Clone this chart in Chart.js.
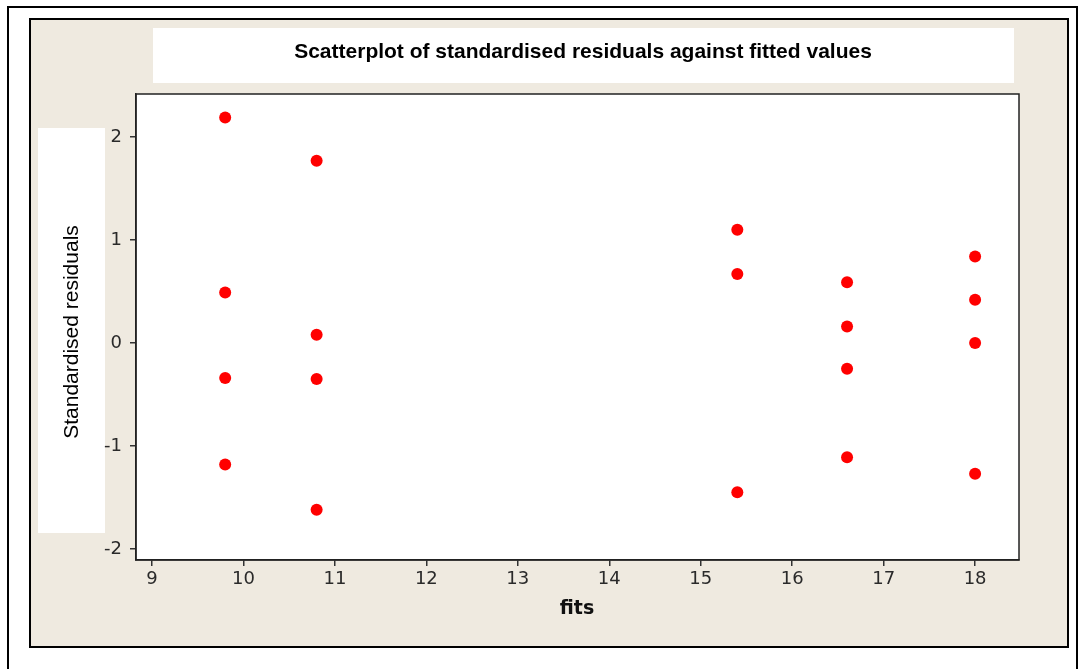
<!DOCTYPE html>
<html>
<head>
<meta charset="utf-8">
<script src="https://cdn.jsdelivr.net/npm/chart.js@4.4.1/dist/chart.umd.min.js"></script>
<style>
  html, body { margin: 0; padding: 0; background: #fff; }
  #wrap { position: relative; width: 1078px; height: 669px; }
</style>
</head>
<body>
<div id="wrap"><canvas id="myChart" width="1078" height="669"></canvas></div>
<script>
// data
const fitsA = [9.8, 9.8, 9.8, 9.8];
const residA = [2.19, 0.49, -0.34, -1.18];
const fitsB = [10.8, 10.8, 10.8, 10.8];
const residB = [1.77, 0.08, -0.35, -1.62];
const fitsC = [15.4, 15.4, 15.4];
const residC = [1.10, 0.67, -1.45];
const fitsD = [16.6, 16.6, 16.6, 16.6];
const residD = [0.59, 0.16, -0.25, -1.11];
const fitsE = [18.0, 18.0, 18.0, 18.0];
const residE = [0.84, 0.42, 0.0, -1.27];

const xTicks = [9, 10, 11, 12, 13, 14, 15, 16, 17, 18];
const yTicks = [-2, -1, 0, 1, 2];

const chartTitle = 'Scatterplot of standardised residuals against fitted values';
const xTitle = 'fits';
const yTitle = 'Standardised residuals';

const beige = '#efeae0';

let points = [];
[[fitsA, residA], [fitsB, residB], [fitsC, residC], [fitsD, residD], [fitsE, residE]].forEach(pair => {
    pair[0].forEach((x, i) => points.push({ x: x, y: pair[1][i] }));
});

// frames, boxes and titles around the plot
const framePlugin = {
    id: 'framePlugin',
    beforeDraw: (chart) => {
        const ctx = chart.ctx;
        const a = chart.chartArea;
        ctx.save();
        ctx.fillStyle = '#fff';
        ctx.fillRect(0, 0, chart.width, chart.height);
        // outer black frame
        ctx.strokeStyle = '#000';
        ctx.lineWidth = 2;
        ctx.strokeRect(8, 7, 1069, 680);
        // beige panel
        ctx.fillStyle = beige;
        ctx.fillRect(30, 19, 1038, 628);
        ctx.strokeRect(30, 19, 1038, 628);
        // title box
        ctx.fillStyle = '#fff';
        ctx.fillRect(153, 28, 861, 55);
        // y label box
        ctx.fillRect(38, 128, 67, 405);
        // plot area
        ctx.fillRect(a.left, a.top, a.right - a.left, a.bottom - a.top);

        ctx.fillStyle = '#000';
        ctx.textAlign = 'center';
        ctx.textBaseline = 'middle';
        ctx.font = 'bold 21px "Liberation Sans", Arial';
        ctx.fillText(chartTitle, 583, 52);

        ctx.font = 'bold 19px "DejaVu Sans"';
        ctx.fillStyle = '#111';
        ctx.fillText(xTitle, 577, 609);

        ctx.save();
        ctx.translate(72, 332);
        ctx.rotate(-Math.PI / 2);
        ctx.font = '21px "Liberation Sans", Arial';
        ctx.fillStyle = '#000';
        ctx.fillText(yTitle, 0, 0);
        ctx.restore();
        ctx.restore();
    },
    afterDatasetsDraw: (chart) => {
        const ctx = chart.ctx;
        const a = chart.chartArea;
        ctx.save();
        ctx.strokeStyle = '#222';
        ctx.lineWidth = 1.5;
        ctx.strokeRect(a.left, a.top, a.right - a.left, a.bottom - a.top);
        ctx.restore();
    }
};

const tickFont = { family: '"DejaVu Sans"', size: 18 };

new Chart(document.getElementById('myChart').getContext('2d'), {
    type: 'scatter',
    data: {
        datasets: [{
            data: points,
            backgroundColor: '#ff0000',
            borderColor: '#ff0000',
            pointRadius: 6,
            pointHoverRadius: 6,
            borderWidth: 0
        }]
    },
    options: {
        responsive: false,
        animation: false,
        layout: { padding: { top: 94, left: 0, right: 59, bottom: 0 } },
        plugins: {
            legend: { display: false },
            title: { display: false },
            tooltip: { enabled: false }
        },
        scales: {
            x: {
                type: 'linear',
                min: 8.825,
                max: 18.48,
                afterBuildTicks: function (scale) {
                    scale.ticks = xTicks.map(v => ({ value: v }));
                },
                afterFit: function (scale) { scale.height = 109; },
                grid: { drawOnChartArea: false, drawTicks: true, tickLength: 6, color: '#333', lineWidth: 1.5 },
                border: { display: true, color: '#222', width: 1.5 },
                ticks: { color: '#2a2a2a', font: tickFont, padding: 3, maxRotation: 0, autoSkip: false }
            },
            y: {
                type: 'linear',
                min: -2.107,
                max: 2.417,
                afterBuildTicks: function (scale) {
                    scale.ticks = yTicks.map(v => ({ value: v }));
                },
                afterFit: function (scale) { scale.width = 136; },
                grid: { drawOnChartArea: false, drawTicks: true, tickLength: 6, color: '#333', lineWidth: 1.5 },
                border: { display: true, color: '#222', width: 1.5 },
                ticks: { color: '#2a2a2a', font: tickFont, padding: 8, autoSkip: false }
            }
        }
    },
    plugins: [framePlugin]
});
</script>
</body>
</html>
